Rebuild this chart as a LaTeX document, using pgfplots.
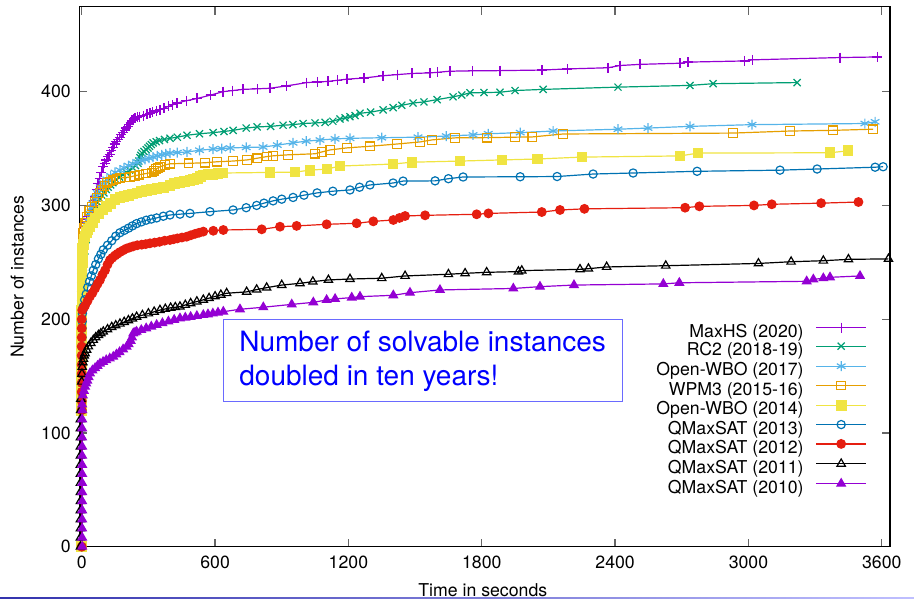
\documentclass[border=0pt]{standalone}
\usepackage{fontspec}
\setmainfont{TeX Gyre Heros}
\usepackage{pgfplots}
\pgfplotsset{compat=1.18}

\definecolor{gviolet}{HTML}{9400D3}
\definecolor{ggreen}{HTML}{009E73}
\definecolor{gsky}{HTML}{56B4E9}
\definecolor{gorange}{HTML}{E69F00}
\definecolor{gyellow}{HTML}{F0E442}
\definecolor{gblue}{HTML}{0072B2}
\definecolor{gred}{HTML}{E51E10}
\definecolor{boxblue}{HTML}{0000FF}
\definecolor{frameblue}{HTML}{6A6AFF}

\newcommand{\lbl}{\fontsize{17.7}{21}\selectfont}

\begin{document}
\begin{tikzpicture}
\useasboundingbox (-79.3pt,-52.3pt) rectangle (834.7pt,546.7pt);
\begin{axis}[
  at={(0,0)}, anchor=south west,
  scale only axis, width=810.7pt, height=540pt,
  xmin=-11, xmax=3637, ymin=0, ymax=474.7,
  xtick={0,600,...,3600}, ytick={0,100,...,400},
  scaled ticks=false,
  /pgf/number format/1000 sep={},
  /pgf/number format/assume math mode=true,
  tick label style={font=\lbl},
  xticklabel style={yshift=-6pt},
  yticklabel style={xshift=-5pt},
  tick align=inside, major tick length=8pt,
  tick style={black!60, line width=1.3pt},
  axis line style={line width=1.4pt},
  xlabel={Time in seconds}, ylabel={Number of instances},
  label style={font=\lbl},
  xlabel style={at={(axis description cs:0.4977,-0.0925)}, anchor=base, inner sep=0pt},
  ylabel style={at={(axis description cs:-0.0765,0.5)}, anchor=center},
  every axis plot/.append style={line width=1.2pt},
  every mark/.append style={solid, line width=1.1pt},
  legend style={draw=none, fill=none, font=\lbl,
    at={(axis description cs:0.9716,0.4154)}, anchor=north east,
    inner sep=0pt, column sep=12pt, row sep=0pt,
    nodes={inner sep=0pt, text height=12.6pt, text depth=5.5pt}},
  legend cell align=right,
  legend plot pos=right,
  legend image code/.code={\draw[mark repeat=2,mark phase=2,#1]
    plot coordinates {(0pt,6pt)(25pt,6pt)(50pt,6pt)};},
]
% MaxHS (2020)
\addplot[gviolet, mark=+, mark size=5pt] coordinates {
(0,0)(0,120)(0,128)(0,136)(0,144)(0,152)(0,160)(0,168)(0,176)(0,184)(0,192)(0,200)(0,208)(0,216)(0,224)(1,232)(1,240)
(1,244)(2,250)(3,256)(4,262)(6,267)(8,272)(11,277)(15,281)(20,285)(25,288)(30,290)(35,292)(40,294)(45,296)(50,300)(55,304)(60,308)(67,314)(73,319)(80,324)(88,329)(96,334)(103,337)(110,340)(118,343)(125,345)(133,348)(141,351)(148,354)(155,356)(162,358)(170,360)(178,362)(186,364)(193,366)(200,368)(206,369.5)(213,371)(220,373)(226,375)(233,376)(240,377)(250,377.5)(260,378)(277,379)(294,380)(307,381)(320,382)(336,383)(352,384)(370,385.5)(390,387)(410,388.5)(429,390)(470,392)(519,394)(580,397)(636,400)(680,401)(726,402)(790,402.5)(847,403)(920,405)(1013,408)(1060,408.5)(1108,409)(1150,410)(1194,411)(1270,412)(1356,414)(1420,415)(1486,416)(1567,416.5)(1600,417)(1657,418)(1760,418.3)(1882,418.5)(2071,419)(2184,420)(2368,421)(2422,423)(2512,424)(2692,425)(2728,426)(2984,427)(3020,428)(3412,430)(3579,430.5)
};
\addlegendentry{MaxHS (2020)}
% RC2 (2018-19)
\addplot[ggreen, mark=x, mark size=5pt] coordinates {
(0,0)(0,120)(0,128)(0,136)(0,144)(0,152)(0,160)(0,168)(0,176)(0,184)(1,192)(1,200)
(2,210)(4,222)(5,230)(7,240)(10,250)(14,260)(20,270)(30,280)(40,290)(50,296)(60,300)(70,303)(80,306)(90,309)(100,311)(110,314)(119,316)(130,318)(140,320)(155,322.5)(170,325)(185,327)(200,329)(215,331)(230,333)(242,335)(253,337)(257,339)(262,342)(266,344)(271,346)(280,347.5)(290,349)(298,350.5)(305,352)(313,353.5)(321,355)(335,356)(350,357)(372,358)(397,359)(430,360)(474,361.7)(530,363)(591,364)(640,365)(681,366)(740,368)(789,369)(850,369.5)(906,370.5)(950,371)(996,372)(1050,372.5)(1095,373)(1130,374)(1162,376)(1185,377)(1207,378)(1230,379)(1252,381)(1300,382)(1356,384)(1401,386)(1440,388)(1491,390)(1540,391)(1599,393)(1671,395.5)(1710,397)(1747,399)(1810,399.2)(1882,399.5)(1950,401)(2076,402)(2413,404)(2737,405.5)(2841,407)(3219,408)
};
\addlegendentry{RC2 (2018-19)}
% Open-WBO (2017)
\addplot[gsky, mark=asterisk, mark size=5pt] coordinates {
(0,0)(0,120)(0,128)(0,136)(0,144)(0,152)(0,160)(0,168)(0,176)(0,184)(0,192)(0,200)(1,208)(1,216)
(2,230)(3,240)(5,250)(7,258)(10,265)(15,273)(20,280)(27,287)(35,293)(42,298)(50,302)(60,307)(70,311)(83,316)(96,320)(113,323)(130,326)(150,329)(172,331)(190,333)(210,335)(230,336.5)(249,338)(267,339.5)(285,340.5)(303,341.5)(321,342.5)(340,343.5)(360,344.5)(378,345.3)(397,346)(430,346.5)(474,347)(530,348.5)(591,349.6)(630,350)(668,350.5)(740,351)(816,351.3)(880,353)(951,355)(1010,356.5)(1072,357.5)(1140,358.5)(1207,359)(1350,359.5)(1513,360)(1640,361)(1761,362)(1829,363)(1973,364)(2121,365.4)(2413,367)(2548,368)(2737,369.5)(3016,371)(3524,372)(3570,373.5)
};
\addlegendentry{Open-WBO (2017)}
% WPM3 (2015-16)
\addplot[gorange, mark=square, mark size=4.3pt] coordinates {
(0,0)(0,120)(0,128)(0,136)(0,144)(0,152)(0,160)(0,168)(0,176)(0,184)(0,192)(0,200)(0,208)(0,216)(1,224)(1,232)(1,240)(1,250)
(2,260)(3,266)(5,272)(7,276)(10,280)(16,285)(24,290)(34,295)(45,299)(57,303)(69,307)(80,311)(90,314)(102,317)(114,320)(127,321)(140,322)(156,323)(172,324)(195,324.5)(217,325)(238,326)(260,327)(288,328)(316,329)(326,330.5)(335,332)(343,333)(352,334)(375,335.5)(397,336.6)(480,337)(555,337.5)(609,338.4)(680,339)(744,340)(790,341.5)(834,343)(861,343.6)(929,344.5)(1050,345.4)(1080,347)(1118,348.8)(1194,350.6)(1297,352)(1419,354)(1522,355.8)(1576,357.6)(1680,359.4)(1824,359.6)(1950,360)(2027,360.2)(2166,362.8)(2931,363.6)(3187,365.4)(3381,366)(3561,367)
};
\addlegendentry{WPM3 (2015-16)}
% Open-WBO (2014)
\addplot[gyellow, mark=square*, mark size=4.8pt] coordinates {
(0,0)(0,120)(0,128)(0,136)(0,144)(0,152)(0,160)(0,168)(0,176)(0,184)(0,192)(0,200)(0,208)(1,216)(1,224)(1,232)(1,240)
(2,250)(3,256)(5,262)(7,266)(10,270)(15,273)(20,276)(28,279)(37,281)(48,285)(60,289)(78,293)(96,296)(113,299)(130,302)(150,305)(172,307)(190,308)(210,309)(230,310)(249,311)(270,312)(290,313)(315,314)(339,315)(368,316)(397,317.5)(418,319)(440,320)(463,321)(487,322)(503,323)(520,324)(533,325.5)(546,326.7)(568,327)(590,327.5)(613,328)(636,328.5)(847,329)(960,329.3)(1027,331)(1104,332)(1162,334.6)(1401,336.4)(1486,338)(1702,339)(1891,340)(2049,340.8)(2251,342.5)(2692,343.5)(2773,346)(3367,346.3)(3448,348)
};
\addlegendentry{Open-WBO (2014)}
% QMaxSAT (2013)
\addplot[gblue, mark=o, mark size=4.1pt] coordinates {
(0,0)(0,120)(0,128)(0,136)(0,144)(0,152)(0,160)(0,168)(0,176)(1,184)(1,192)
(2,198)(3,205)(5,208)(7,211)(13,217)(20,222)(27,228)(35,233)(43,238)(52,243)(63,248)(75,253)(86,257)(97,261)(116,265)(135,269)(153,273)(172,276)(191,278)(210,280)(228,282)(247,284)(268,285.5)(290,287)(313,288)(337,289)(367,290.5)(397,291.6)(442,292.3)(487,293)(577,294.5)(681,296)(740,298)(787,300)(820,302)(861,304)(900,305.5)(951,307)(1000,309)(1059,311)(1130,312.5)(1207,313.6)(1250,316)(1297,318)(1401,319.7)(1446,321.4)(1590,321.6)(1650,323.5)(1716,325)(1973,325.2)(2139,325.4)(2301,327.6)(2481,328.5)(2769,330)(3142,331)(3309,332)(3570,333.6)(3606,334)
};
\addlegendentry{QMaxSAT (2013)}
% QMaxSAT (2012)
\addplot[gred, mark=*, mark size=4.3pt] coordinates {
(0,0)(0,120)(0,128)(0,136)(0,144)(0,152)(0,160)(0,168)(0,176)(0,184)(0,192)(0,200)
(2,208)(8,210)(15,212)(26,216)(37,220)(48,223)(60,227)(71,231)(82,234.5)(93,239)(105,243)(116,248)(127,252)(138,254)(150,256)(161,257.5)(172,259)(186,260.5)(200,262)(215,263)(231,264)(250,265)(270,265.5)(288,266)(307,266.7)(328,267.3)(350,268)(373,269)(397,269.6)(413,270.3)(430,271)(451,271.8)(472,272.5)(491,273.8)(510,275)(528,276)(547,277)(592,277.7)(637,278.4)(810,279)(892,281.3)(967,282)(1102,283.4)(1237,284.3)(1312,286)(1402,287.2)(1430,289)(1455,290.7)(1545,291.3)(1777,292.2)(1830,293)(2070,294.2)(2152,296)(2262,297)(2715,298)(2779,299.2)(3025,300)(3105,301)(3327,302)(3495,303)
};
\addlegendentry{QMaxSAT (2012)}
% QMaxSAT (2011)
\addplot[black, mark=triangle, mark size=4.8pt] coordinates {
(-6,0)(-6,8)(-6,16)(-6,24)(-6,32)(-6,40)(-6,48)(-6,56)(-6,64)(-6,72)(-6,80)(-6,88)(-6,96)(-6,104)(-6,112)(-5,120)(-4,130)
(0,145)(1,152)(2,158)(5,162)(8,165)(11,168)(15,170)(22,173)(30,176)(41,179)(52,181.7)(63,184)(75,186)(86,187.5)(97,189)(116,191)(135,193)(153,194.5)(172,196)(191,197.5)(210,199)(228,200.5)(247,202)(273,203.5)(300,205)(326,206.5)(352,208)(376,209)(400,210)(421,210.5)(442,211)(466,212.5)(490,214)(518,215.5)(547,217)(573,218.5)(600,220)(626,221.4)(652,222.8)(742,224)(787,226)(832,227.7)(900,230)(982,231.5)(1040,233)(1110,234.5)(1207,235.3)(1350,236)(1455,238)(1650,239.5)(1725,240.3)(1822,241.2)(1965,241.8)(1980,242.7)(2242,243.8)(2280,244.4)(2362,245.9)(2628,247)(3045,249)(3192,250.5)(3337,251.4)(3450,252.6)(3630,253)
};
\addlegendentry{QMaxSAT (2011)}
% QMaxSAT (2010)
\addplot[gviolet, mark=triangle*, mark size=4.8pt] coordinates {
(2,0)(2,8)(2,16)(2,24)(2,32)(2,40)(2,48)(2,56)(2,64)(2,72)(2,80)(2,88)(2,96)(2,104)(2,112)(3,120)
(2,125)(5,133)(10,137)(15,140.7)(20,143.5)(25,146)(31,149)(37,152.4)(48,155)(60,157)(71,159)(82,161)(96,162.5)(110,164)(126,165.5)(142,167)(156,169)(170,171)(186,173.5)(202,175.8)(211,178)(220,181)(226,184)(232,187.6)(240,188.3)(247,189)(268,190.5)(290,192)(313,193.5)(337,195)(363,196.5)(390,198)(416,199.5)(442,200.8)(466,201.4)(490,202)(518,202.8)(547,203.7)(568,204.3)(590,205)(613,205.8)(637,206.6)(712,208.7)(817,210.5)(945,213)(1042,214.8)(1102,216.9)(1140,217.8)(1215,219)(1252,219.8)(1402,221)(1477,223.3)(1612,225.7)(1942,227)(2062,228.6)(2215,230)(2617,231)(2689,232)(3262,233.3)(3292,235)(3337,236)(3367,236.8)(3502,238)
};
\addlegendentry{QMaxSAT (2010)}

\node[draw=frameblue, line width=1pt, text=boxblue, align=left,
  font=\fontsize{28}{34}\selectfont, minimum width=399pt, minimum height=82pt]
  at (axis cs:1534,163.3) {Number of solvable instances\\doubled in ten years!};
\end{axis}
\shade[left color=blue!60!black!80, right color=blue!25] (-79.3pt,-52.3pt) rectangle (834.7pt,-50.6pt);
\end{tikzpicture}
\end{document}
